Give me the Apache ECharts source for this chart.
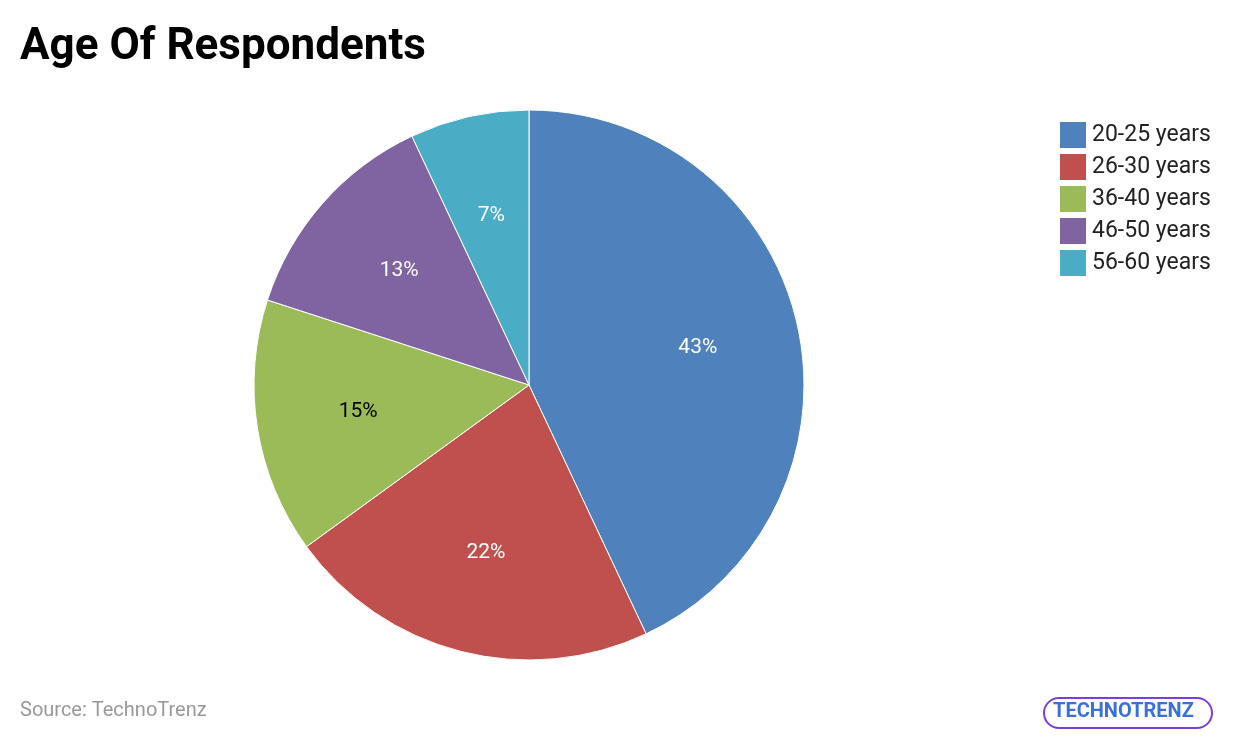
<!DOCTYPE html>
<html><head><meta charset="utf-8">
<script src="https://cdn.jsdelivr.net/npm/echarts@6/dist/echarts.min.js"></script>
<style>html,body{margin:0;background:#fff}#c{width:1240px;height:746px}</style>
</head><body><div id="c"></div>
<script>
var categories = ['20-25 years', '26-30 years', '36-40 years', '46-50 years', '56-60 years'];
var values = [43, 22, 15, 13, 7];
var colors = ['#4F81BD', '#C0504D', '#9BBB59', '#8064A2', '#4BACC6'];
var labelColors = ['#fff', '#fff', '#000', '#fff', '#fff'];

var chart = echarts.init(document.getElementById('c'));
var data = [], labelData = [];
for (var i = 0; i < categories.length; i++) {
    data.push({name: categories[i], value: values[i]});
    labelData.push({name: categories[i], value: values[i], label: {color: labelColors[i]}});
}
chart.setOption({
    color: colors,
    textStyle: {fontFamily: 'Roboto'},
    title: {text: 'Age Of Respondents', left: 15, top: 21,
        textStyle: {fontSize: 44, fontWeight: 'bold', color: '#000', fontFamily: 'Roboto'}},
    legend: {orient: 'vertical', left: 1053, top: 115, itemWidth: 28, itemHeight: 28, itemGap: 2,
        icon: 'rect', textStyle: {fontSize: 23, color: '#222'}, data: categories},
    graphic: [
        {type: 'text', left: 20, top: 701, style: {text: 'Source: TechnoTrenz', fontSize: 20, fill: '#999', fontFamily: 'Roboto'}},
        {type: 'rect', left: 1043, top: 697, shape: {width: 168, height: 30, r: 15},
            style: {fill: '#fff', stroke: '#7b3fd6', lineWidth: 2}},
        {type: 'text', left: 1053, top: 702, style: {text: 'TECHNOTRENZ', fontSize: 20, fontWeight: 'bold', fill: '#3a6fe0', fontFamily: 'Roboto'}}
    ],
    series: [{
        type: 'pie', center: [529, 385], radius: 275, startAngle: 90,
        itemStyle: {borderColor: '#fff', borderWidth: 1},
        label: {show: false}, labelLine: {show: false},
        data: data
    }, {
        // transparent ring only used to place the labels further out
        type: 'pie', center: [529, 385], radius: 340, startAngle: 90, silent: true,
        itemStyle: {color: 'rgba(0,0,0,0)'},
        label: {position: 'inside', formatter: '{c}%', fontSize: 21},
        labelLine: {show: false},
        data: labelData
    }]
});
</script></body></html>
